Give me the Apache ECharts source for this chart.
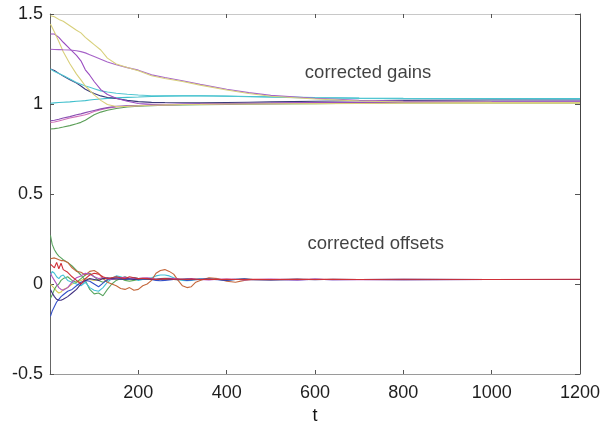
<!DOCTYPE html>
<html>
<head>
<meta charset="utf-8">
<script src="https://cdn.jsdelivr.net/npm/echarts@6/dist/echarts.min.js"></script>
<style>
  html, body { margin: 0; padding: 0; background: #fff; }
  #chart { width: 602px; height: 424px; }
</style>
</head>
<body>
<div id="chart"></div>
<script>
// Sample times for the gain estimates
const tGain = [1,10,20,30,45,60,70,80,90,100,115,130,150,175,200,230,260,300,340,400,450,500,600,700,800,1000,1200];

const gainYellowA = [1.49,1.485,1.47,1.46,1.435,1.41,1.395,1.37,1.35,1.33,1.30,1.255,1.222,1.203,1.185,1.157,1.142,1.125,1.105,1.078,1.058,1.043,1.028,1.017,1.011,1.009,1.008];
const gainPurpleA = [1.304,1.303,1.302,1.301,1.3,1.296,1.291,1.284,1.274,1.264,1.248,1.233,1.218,1.202,1.188,1.162,1.147,1.129,1.109,1.082,1.063,1.048,1.032,1.021,1.017,1.014,1.013];
const gainYellowB = [1.444,1.40,1.347,1.29,1.224,1.166,1.134,1.10,1.075,1.051,1.02,0.997,0.986,0.987,0.99,0.993,0.995,0.997,0.998,1.0,1.0,1.001,1.002,1.003,1.004,1.005,1.005];
const gainPurpleB = [1.389,1.389,1.37,1.343,1.306,1.27,1.24,1.19,1.16,1.125,1.08,1.053,1.032,1.015,1.003,0.998,0.998,1.0,1.001,1.003,1.004,1.005,1.008,1.01,1.012,1.014,1.015];
const gainCyanA   = [1.194,1.18,1.17,1.158,1.139,1.12,1.11,1.10,1.093,1.085,1.073,1.067,1.06,1.054,1.05,1.046,1.046,1.046,1.046,1.043,1.04,1.038,1.034,1.031,1.03,1.029,1.028];
const gainNavy    = [1.194,1.186,1.17,1.155,1.135,1.116,1.1,1.082,1.07,1.058,1.045,1.036,1.031,1.02,1.013,1.009,1.008,1.007,1.006,1.008,1.01,1.012,1.015,1.018,1.02,1.022,1.022];
const gainCyanB   = [1.004,1.006,1.008,1.01,1.012,1.015,1.017,1.019,1.022,1.025,1.028,1.031,1.034,1.037,1.039,1.042,1.044,1.045,1.046,1.044,1.042,1.04,1.036,1.033,1.031,1.03,1.03];
const gainPurpleC = [0.907,0.91,0.915,0.922,0.93,0.94,0.945,0.952,0.958,0.964,0.973,0.98,0.987,0.99,0.992,0.994,0.996,0.998,1.0,1.002,1.003,1.004,1.006,1.008,1.01,1.012,1.012];
const gainMagenta = [0.898,0.9,0.906,0.912,0.922,0.93,0.935,0.94,0.948,0.958,0.968,0.976,0.983,0.988,0.991,0.993,0.995,0.997,0.998,1.0,1.001,1.002,1.004,1.006,1.008,1.01,1.01];
const gainGreen   = [0.861,0.863,0.867,0.872,0.88,0.89,0.898,0.91,0.925,0.94,0.955,0.965,0.975,0.983,0.988,0.991,0.993,0.995,0.996,0.998,0.999,1.0,1.002,1.004,1.006,1.006,1.006];

// Sample times for the offset estimates
const tOffset = [1,5,10,15,20,25,30,
  40,50,60,70,80,90,100,
  110,120,130,140,150,160,170,180,190,200,210,220,230,240,250,260,270,280,290,300,310,320,330,340,
  360,380,400,420,440,460,
  500,560,600,640,700,800,1000,1200];

const offGreen = [0.27,0.22,0.19,0.17,0.155,0.145,0.135,
  0.12,0.10,0.075,0.05,0.02,-0.03,-0.055,
  -0.05,-0.065,-0.03,0.0,0.02,0.03,0.04,0.03,0.035,0.03,0.025,0.03,0.028,0.025,0.03,0.032,0.03,0.028,0.025,0.024,0.026,0.025,0.027,0.026,
  0.025,0.025,0.024,0.025,0.026,0.025,
  0.025,0.025,0.025,0.025,0.025,0.025,0.025,0.025];
const offBrown = [0.14,0.14,0.145,0.14,0.135,0.13,0.13,
  0.12,0.09,0.07,0.065,0.05,0.07,0.075,
  0.06,0.03,0.01,0.0,-0.01,-0.025,-0.03,-0.02,-0.035,-0.03,-0.01,0.0,0.02,0.06,0.075,0.08,0.07,0.055,0.02,-0.01,-0.02,-0.015,0.01,0.02,
  0.035,0.03,0.015,0.01,0.02,0.025,
  0.024,0.025,0.026,0.025,0.025,0.025,0.025,0.025];
const offBlue = [-0.18,-0.15,-0.125,-0.10,-0.085,-0.07,-0.06,
  -0.04,-0.03,-0.01,0.01,0.02,0.015,0.0,
  -0.015,0.005,0.025,0.03,0.035,0.03,0.025,0.03,0.035,0.03,0.028,0.03,0.025,0.02,0.018,0.02,0.022,0.025,0.028,0.025,0.02,0.022,0.025,0.027,
  0.026,0.024,0.02,0.025,0.027,0.024,
  0.025,0.022,0.026,0.024,0.025,0.026,0.025,0.025];
const offCyan = [0.05,0.07,0.06,0.04,0.03,0.045,0.05,
  0.02,0.01,0.0,-0.01,0.01,-0.02,-0.035,
  -0.04,-0.02,0.01,0.03,0.045,0.04,0.03,0.025,0.03,0.02,0.025,0.03,0.035,0.045,0.05,0.05,0.045,0.035,0.025,0.02,0.018,0.02,0.025,0.028,
  0.027,0.025,0.023,0.025,0.026,0.025,
  0.025,0.025,0.025,0.025,0.025,0.025,0.025,0.025];
const offYellow = [0.0,-0.01,-0.025,-0.04,-0.05,-0.045,-0.03,
  -0.02,0.0,0.01,0.02,0.03,0.025,0.02,
  0.025,0.03,0.028,0.025,0.026,0.027,0.025,0.024,0.026,0.025,0.027,0.026,0.025,0.024,0.025,0.026,0.025,0.025,0.024,0.025,0.026,0.025,0.025,0.025,
  0.025,0.025,0.025,0.025,0.025,0.025,
  0.025,0.025,0.025,0.025,0.025,0.025,0.025,0.025];
const offGreen2 = [-0.08,-0.06,-0.03,-0.01,0.0,0.02,0.03,
  0.04,0.02,0.01,0.03,0.05,0.06,0.04,
  0.02,0.01,0.02,0.035,0.04,0.03,0.02,0.015,0.02,0.025,0.028,0.026,0.025,0.027,0.025,0.024,0.026,0.025,0.025,0.026,0.025,0.024,0.025,0.026,
  0.025,0.025,0.025,0.025,0.025,0.025,
  0.025,0.025,0.025,0.025,0.025,0.025,0.025,0.025];
const offMagenta = [0.06,0.04,0.02,0.0,-0.02,-0.03,-0.035,
  -0.02,0.01,0.035,0.045,0.06,0.055,0.04,
  0.03,0.035,0.03,0.025,0.03,0.035,0.038,0.032,0.028,0.03,0.033,0.035,0.03,0.027,0.028,0.03,0.032,0.03,0.027,0.026,0.028,0.03,0.027,0.025,
  0.022,0.026,0.028,0.026,0.022,0.025,
  0.027,0.023,0.027,0.024,0.025,0.024,0.025,0.025];
const offNavy = [-0.03,-0.05,-0.07,-0.085,-0.09,-0.09,-0.085,
  -0.07,-0.05,-0.03,0.0,0.02,0.03,0.025,
  0.02,0.03,0.035,0.03,0.028,0.026,0.03,0.028,0.025,0.027,0.03,0.028,0.026,0.025,0.027,0.029,0.027,0.025,0.024,0.026,0.028,0.026,0.024,0.025,
  0.027,0.025,0.023,0.026,0.028,0.025,
  0.023,0.027,0.024,0.026,0.025,0.024,0.025,0.025];
const offRed = [0.11,0.10,0.09,0.12,0.085,0.115,0.08,
  0.065,0.04,0.02,0.0,0.03,0.05,0.06,
  0.055,0.04,0.03,0.035,0.04,0.035,0.03,0.04,0.035,0.03,0.032,0.03,0.028,0.025,0.027,0.03,0.028,0.026,0.027,0.026,0.025,0.027,0.026,0.025,
  0.026,0.025,0.026,0.025,0.025,0.026,
  0.025,0.026,0.025,0.026,0.025,0.026,0.025,0.026];

const xTicks = { min: 0, max: 1200, step: 200 };
const yTicks = { min: -0.5, max: 1.5, step: 0.5 };

const notes = [
  { text: 'corrected gains', t: 577, v: 1.172 },
  { text: 'corrected offsets', t: 583, v: 0.222 }
];

const gainSeries = [
  [gainGreen, '#5c9f58'],
  [gainMagenta, '#d070b8'],
  [gainPurpleC, '#8b4fb3'],
  [gainCyanB, '#3fbfcc'],
  [gainNavy, '#3a3a7a'],
  [gainCyanA, '#52c6d2'],
  [gainPurpleB, '#9a4cc0'],
  [gainYellowB, '#d9cf7a'],
  [gainPurpleA, '#a764c8'],
  [gainYellowA, '#d8d07c']
];
const offsetSeries = [
  [offYellow, '#d8c850'],
  [offGreen2, '#5aa85a'],
  [offGreen, '#5aa560'],
  [offCyan, '#44c0d6'],
  [offBrown, '#c4683c'],
  [offBlue, '#3550c8'],
  [offMagenta, '#b050c0'],
  [offNavy, '#403080'],
  [offRed, '#d03038']
];

const zip = (ts, vs) => ts.map((t, i) => [t, vs[i]]);
const lineOf = (ts, pair) => ({
  type: 'line',
  data: zip(ts, pair[0]),
  showSymbol: false,
  symbol: 'none',
  lineStyle: { width: 1.1, color: pair[1] },
  xAxisIndex: 0, yAxisIndex: 0,
  silent: true,
  z: 2
});

const font = "'Liberation Sans', Arial, Helvetica, sans-serif";
const chart = echarts.init(document.getElementById('chart'), null, { renderer: 'canvas' });

const series = []
  .concat(gainSeries.map(p => lineOf(tGain, p)))
  .concat(offsetSeries.map(p => lineOf(tOffset, p)));

series.push({
  type: 'scatter',
  data: notes.map(n => ({ value: [n.t, n.v], name: n.text })),
  symbolSize: 0,
  silent: true,
  label: {
    show: true,
    position: 'right',
    distance: 0,
    formatter: p => p.name,
    fontFamily: font,
    fontSize: 18.5,
    color: '#111'
  },
  z: 5
});

chart.setOption({
  animation: false,
  backgroundColor: '#fff',
  grid: { left: 50, right: 22, top: 14, bottom: 50, outerBoundsMode: 'none', containLabel: false },
  xAxis: [
    {
      type: 'value', position: 'bottom',
      min: xTicks.min, max: xTicks.max, interval: xTicks.step,
      name: 't', nameLocation: 'middle', nameGap: 22,
      nameTextStyle: { fontFamily: font, fontSize: 18, color: '#111' },
      axisLine: { show: true, onZero: false, lineStyle: { color: '#9a9a9a', width: 1 } },
      axisTick: { show: true, inside: true, length: 4, lineStyle: { color: '#555' } },
      axisLabel: { fontFamily: font, fontSize: 18, color: '#1e1e1e', margin: 10,
        formatter: v => (v === 0 ? '' : String(v)) },
      splitLine: { show: false }
    },
    {
      type: 'value', position: 'top',
      min: xTicks.min, max: xTicks.max, interval: xTicks.step,
      axisLine: { show: true, onZero: false, lineStyle: { color: '#c8c8c8', width: 1 } },
      axisTick: { show: true, inside: true, length: 4, lineStyle: { color: '#555' } },
      axisLabel: { show: false },
      splitLine: { show: false }
    }
  ],
  yAxis: [
    {
      type: 'value', position: 'left',
      min: yTicks.min, max: yTicks.max, interval: yTicks.step,
      axisLine: { show: true, onZero: false, lineStyle: { color: '#666', width: 1 } },
      axisTick: { show: true, inside: true, length: 4, lineStyle: { color: '#555' } },
      axisLabel: { fontFamily: font, fontSize: 18, color: '#1e1e1e', margin: 7 },
      splitLine: { show: false }
    },
    {
      type: 'value', position: 'right',
      min: yTicks.min, max: yTicks.max, interval: yTicks.step,
      axisLine: { show: true, onZero: false, lineStyle: { color: '#444', width: 1 } },
      axisTick: { show: true, inside: true, length: 5, lineStyle: { color: '#555' } },
      axisLabel: { show: false },
      splitLine: { show: false }
    }
  ],
  series: series
});
</script>
</body>
</html>
